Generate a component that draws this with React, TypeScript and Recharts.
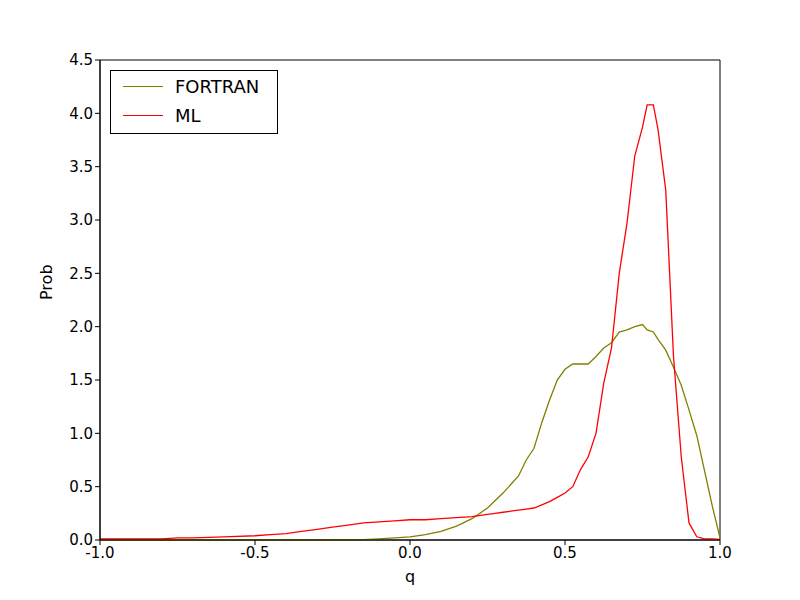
import React from "react";
import { LineChart, Line, XAxis, YAxis, ReferenceArea } from "recharts";

const qValues = [
  -1, -0.9, -0.8, -0.75, -0.7, -0.6, -0.5, -0.45, -0.4, -0.35, -0.3, -0.25, -0.2, -0.15, -0.1, -0.05,
  0, 0.05, 0.1, 0.15, 0.2, 0.25, 0.275, 0.3, 0.325, 0.35, 0.375, 0.4, 0.425, 0.45, 0.475, 0.5, 0.525,
  0.55, 0.575, 0.6, 0.625, 0.65, 0.675, 0.7, 0.725, 0.75, 0.765, 0.785, 0.8, 0.825, 0.85, 0.875, 0.9, 0.925,
  0.95, 0.975, 1,
];
const fortran = [
  0, 0, 0, 0, 0, 0, 0, 0, 0, 0, 0, 0, 0, 0.003, 0.01, 0.02,
  0.03, 0.05, 0.08, 0.13, 0.2, 0.3, 0.37, 0.44, 0.52, 0.6, 0.75, 0.86, 1.1, 1.31, 1.5, 1.6, 1.65,
  1.65, 1.65, 1.72, 1.8, 1.85, 1.95, 1.97, 2.0, 2.02, 1.97, 1.95, 1.88, 1.78, 1.62, 1.45, 1.22, 0.98,
  0.65, 0.32, 0.02,
];
const ml = [
  0.01, 0.01, 0.01, 0.02, 0.02, 0.03, 0.04, 0.05, 0.06, 0.08, 0.1, 0.12, 0.14, 0.16, 0.17, 0.18,
  0.19, 0.19, 0.2, 0.21, 0.22, 0.24, 0.25, 0.26, 0.27, 0.28, 0.29, 0.3, 0.33, 0.36, 0.4, 0.44, 0.5,
  0.66, 0.78, 1.0, 1.47, 1.8, 2.5, 2.97, 3.6, 3.87, 4.08, 4.08, 3.85, 3.28, 1.72, 0.78, 0.16, 0.03,
  0.01, 0.01, 0.005,
];
const xTicks = [-1, -0.5, 0, 0.5, 1];
const yTicks = [0, 0.5, 1, 1.5, 2, 2.5, 3, 3.5, 4, 4.5];

const data = qValues.map((q, i) => ({ q, fortran: fortran[i], ml: ml[i] }));

const font = "DejaVu Sans, sans-serif";
const tick = { fontSize: 15, fill: "#000", fontFamily: font };

export default function App() {
  return (
    <div style={{ position: "absolute", left: 0, top: 0, width: 800, height: 600, background: "#fff" }}>
      <LineChart width={800} height={600} data={data} margin={{ top: 60, right: 80, left: 40, bottom: 20 }}>
        <XAxis dataKey="q" type="number" domain={[-1, 1]} ticks={xTicks} tick={tick}
          tickFormatter={(v) => v.toFixed(1)} stroke="#000" tickSize={5} height={40}
          label={{ value: "q", position: "insideBottom", offset: -2, fontSize: 16, fill: "#000", fontFamily: font }} />
        <YAxis domain={[0, 4.5]} ticks={yTicks} tick={tick} tickFormatter={(v) => v.toFixed(1)}
          stroke="#000" tickSize={5} width={60}
          label={{ value: "Prob", angle: -90, position: "insideLeft", offset: 6, fontSize: 16, fill: "#000", fontFamily: font }} />
        <ReferenceArea x1={-1} x2={1} y1={0} y2={4.5} fill="none" stroke="#000" strokeWidth={1} ifOverflow="visible" />
        <Line dataKey="fortran" stroke="#808000" strokeWidth={1.3} dot={false} type="linear" isAnimationActive={false} />
        <Line dataKey="ml" stroke="#ff0000" strokeWidth={1.3} dot={false} type="linear" isAnimationActive={false} />
      </LineChart>
      <div style={{ position: "absolute", left: 110, top: 70, width: 168, height: 64, border: "1px solid #000",
        background: "#fff", fontFamily: font, fontSize: 18, boxSizing: "border-box" }}>
        {[["FORTRAN", "#808000"], ["ML", "#ff0000"]].map(([name, c], i) => (
          <div key={name} style={{ position: "absolute", left: 12, top: 5 + i * 29, display: "flex", alignItems: "center" }}>
            <span style={{ display: "inline-block", width: 40, height: 0, borderTop: `1.5px solid ${c}`, marginRight: 12 }} />
            <span>{name}</span>
          </div>
        ))}
      </div>
    </div>
  );
}
